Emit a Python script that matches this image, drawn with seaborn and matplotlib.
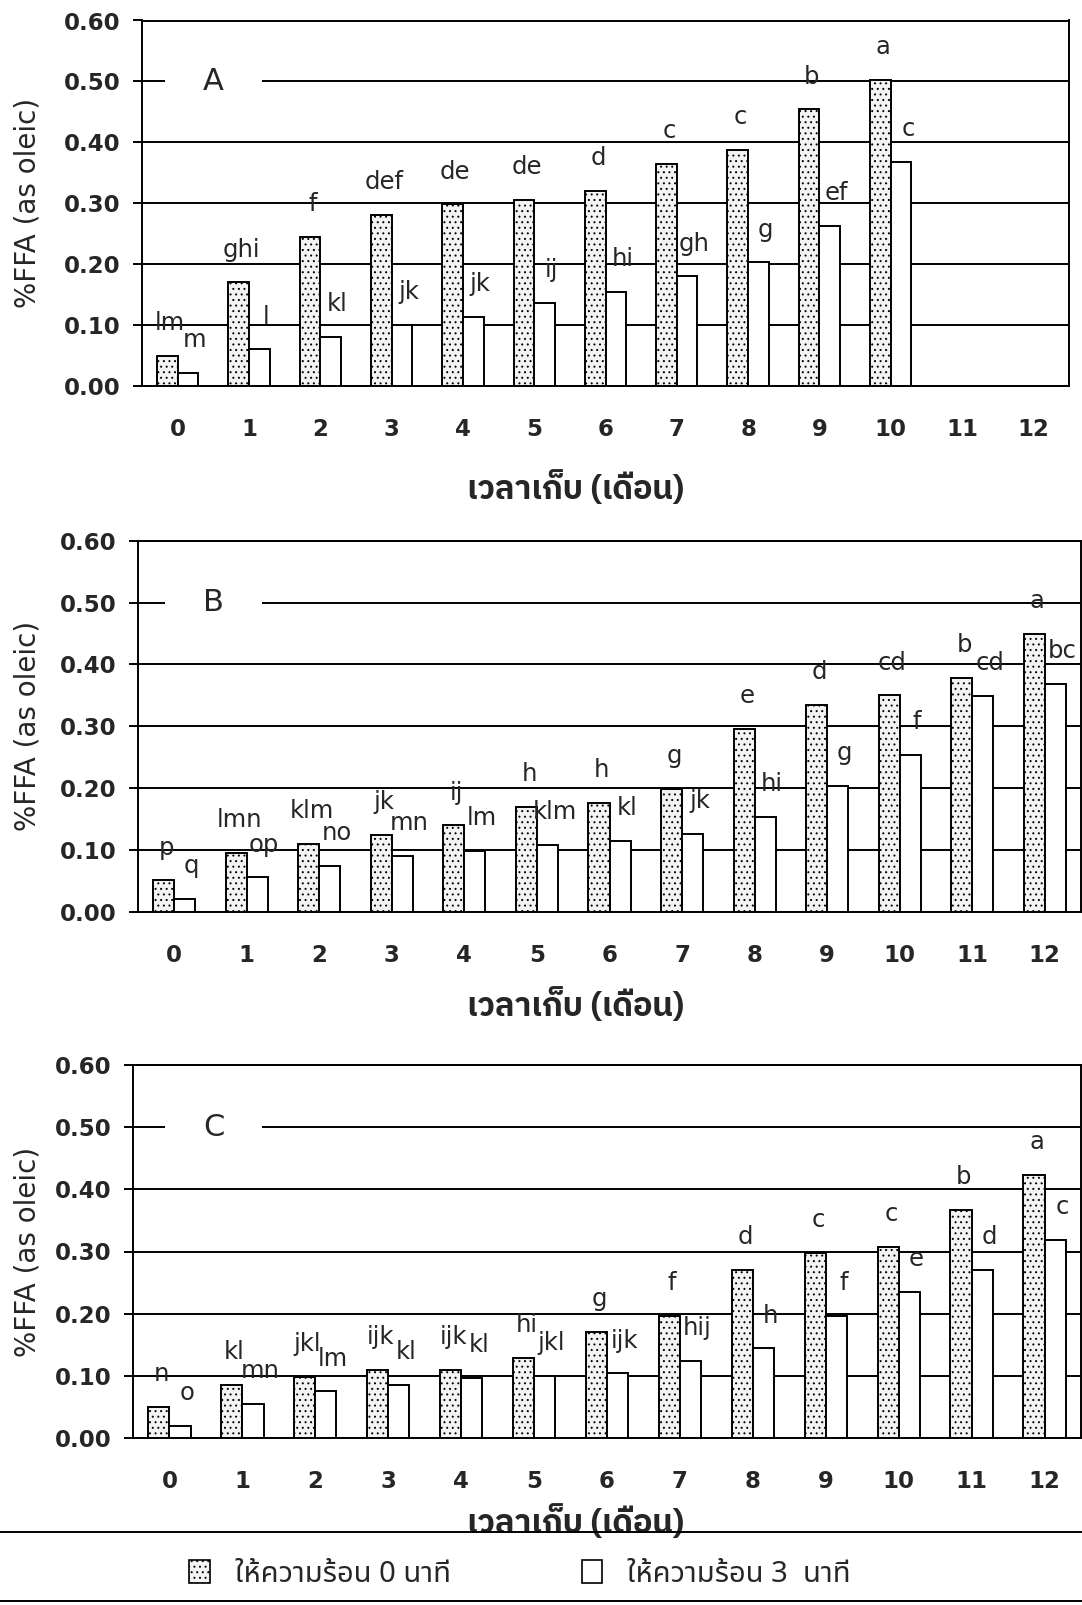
import matplotlib
matplotlib.use('Agg')
import matplotlib.pyplot as plt
from matplotlib.patches import Patch, Rectangle
import seaborn as sns
import pandas as pd
import numpy as np

# ข้อมูล (อ่านจากกราฟ) : %FFA ตามเวลาเก็บ 0-12 เดือน
months = [str(m) for m in range(13)]
heat_levels = ['0', '3']

A_heat0 = [0.050, 0.170, 0.245, 0.281, 0.298, 0.305, 0.320, 0.364, 0.388, 0.454, 0.502]
A_heat3 = [0.021, 0.060, 0.080, 0.100, 0.114, 0.136, 0.155, 0.180, 0.203, 0.263, 0.368]
A_let0 = ['lm', 'ghi', 'f', 'def', 'de', 'de', 'd', 'c', 'c', 'b', 'a']
A_let3 = ['m', 'l', 'kl', 'jk', 'jk', 'ij', 'hi', 'gh', 'g', 'ef', 'c']

B_heat0 = [0.051, 0.095, 0.110, 0.125, 0.140, 0.170, 0.176, 0.199, 0.296, 0.334, 0.350, 0.378, 0.449]
B_heat3 = [0.021, 0.056, 0.075, 0.090, 0.099, 0.109, 0.115, 0.126, 0.154, 0.204, 0.254, 0.349, 0.369]
B_let0 = ['p', 'lmn', 'klm', 'jk', 'ij', 'h', 'h', 'g', 'e', 'd', 'cd', 'b', 'a']
B_let3 = ['q', 'op', 'no', 'mn', 'lm', 'klm', 'kl', 'jk', 'hi', 'g', 'f', 'cd', 'bc']

C_heat0 = [0.050, 0.086, 0.098, 0.109, 0.109, 0.129, 0.171, 0.196, 0.270, 0.298, 0.308, 0.367, 0.423]
C_heat3 = [0.020, 0.055, 0.075, 0.085, 0.096, 0.100, 0.104, 0.124, 0.144, 0.197, 0.235, 0.270, 0.319]
C_let0 = ['n', 'kl', 'jkl', 'ijk', 'ijk', 'hi', 'g', 'f', 'd', 'c', 'c', 'b', 'a']
C_let3 = ['o', 'mn', 'lm', 'kl', 'kl', 'jkl', 'ijk', 'hij', 'h', 'f', 'e', 'd', 'c']

yticks = [0.0, 0.1, 0.2, 0.3, 0.4, 0.5, 0.6]
ylabel = '%FFA (as oleic)'
xlabel = 'เวลาเก็บ (เดือน)'
legend_labels = ['ให้ความร้อน 0 นาที', 'ให้ความร้อน 3  นาที']

# ฟอนต์
sns.set_style('white')
plt.rcParams['font.family'] = ['DejaVu Sans', 'Noto Sans Thai']
plt.rcParams['hatch.linewidth'] = 0.7
thai_bold = ['IBM Plex Sans Thai', 'Noto Sans Thai', 'DejaVu Sans']
thai_font = ['Noto Sans Thai', 'IBM Plex Sans Thai', 'DejaVu Sans']

W, H = 1082, 1605
fig = plt.figure(figsize=(W / 100, H / 100), dpi=100)
fig.patch.set_facecolor('white')

# ตำแหน่งกราฟ (พิกเซล: ซ้าย ขวา บน ล่าง) และตำแหน่งชื่อแกน x
panels = [
    ('A', A_heat0, A_heat3, A_let0, A_let3, (142, 1069, 20.5, 386), 489),
    ('B', B_heat0, B_heat3, B_let0, B_let3, (138, 1081, 540.7, 912), 1006),
    ('C', C_heat0, C_heat3, C_let0, C_let3, (133, 1081, 1065, 1438), 1523),
]

LW = 1.4
DOT_FACE = '#f3f3f3'
PAD = 15

for name, h0, h3, l0, l3, (L, R, T, B), xlab_y in panels:
    ax = fig.add_axes([L / W, 1 - B / H, (R - L) / W, (B - T) / H])

    df = pd.DataFrame({
        'month': months[:len(h0)] + months[:len(h3)],
        'ffa': h0 + h3,
        'heat': ['0'] * len(h0) + ['3'] * len(h3),
    })

    ax.set_axisbelow(True)
    ax.yaxis.grid(True, color='black', linewidth=LW)
    ax.xaxis.grid(False)

    sns.barplot(data=df, x='month', y='ffa', hue='heat', order=months,
                hue_order=heat_levels, palette=['white', 'white'], saturation=1,
                width=0.58, gap=0, edgecolor='black', linewidth=LW,
                errorbar=None, legend=False, ax=ax)

    # แท่งจุด (ให้ความร้อน 0 นาที)
    for p in ax.containers[0]:
        p.set_facecolor(DOT_FACE)
        p.set_hatch('...')

    # ตัวอักษรแสดงความแตกต่าง
    t0 = ax.bar_label(ax.containers[0], labels=l0, padding=PAD, fontsize=17.5)
    t3 = ax.bar_label(ax.containers[1], labels=l3, padding=PAD, fontsize=17.5)
    for t in t0:
        t.xyann = (2, PAD)
    for t in t3:
        t.xyann = (5, PAD)

    ax.set_xlim(-0.5, 12.5)
    ax.set_ylim(0, 0.6)
    ax.set_yticks(yticks)
    ax.set_yticklabels([f'{v:.2f}' for v in yticks], fontweight='bold', fontsize=16.5)
    ax.set_xticks(np.arange(-0.5, 13, 1))
    ax.set_xticklabels([])
    ax.set_xticks(np.arange(13), minor=True)
    ax.set_xticklabels(months, minor=True, fontweight='bold', fontsize=16.5)
    ax.tick_params(axis='x', which='major', direction='out', length=6, width=LW, color='black')
    ax.tick_params(axis='x', which='minor', length=0, pad=23)
    ax.tick_params(axis='y', direction='out', length=6.5, width=LW, color='black', pad=9, left=True)

    for s in ax.spines.values():
        s.set_visible(True)
        s.set_color('black')
        s.set_linewidth(LW)

    ax.set_ylabel(ylabel, fontsize=20)
    ax.yaxis.set_label_coords((28 - L) / (R - L), 0.5)
    ax.yaxis.label.set_va('center')

    ax.set_xlabel(xlabel, fontsize=23.5, fontweight='bold', family=thai_bold)
    ax.xaxis.set_label_coords((576 - L) / (R - L), (B - xlab_y) / (B - T))
    ax.xaxis.label.set_va('center')

    # ชื่อกราฟ A B C บนเส้น 0.50
    ax.text((213.5 - L) / (R - L), 0.5, name, transform=ax.get_yaxis_transform(),
            fontsize=22, ha='center', va='center', zorder=3,
            bbox=dict(boxstyle='square,pad=1.25', facecolor='white', edgecolor='none'))

# กรอบคำอธิบาย
fig.add_artist(Rectangle((-0.01, 1 - 1601 / H), 1.02, (1601 - 1532) / H,
                         transform=fig.transFigure, facecolor='none',
                         edgecolor='black', linewidth=LW))
handles = [Patch(facecolor=DOT_FACE, edgecolor='black', hatch='...', linewidth=1.2),
           Patch(facecolor='white', edgecolor='black', linewidth=1.2)]
fig.legend(handles, legend_labels, loc='center', bbox_to_anchor=(520 / W, 1 - 1574 / H),
           ncol=2, frameon=False, handlelength=0.7, handleheight=0.8,
           handletextpad=0.85, columnspacing=4.5, prop={'family': thai_font, 'size': 21})

fig.savefig('out.png', dpi=100)
